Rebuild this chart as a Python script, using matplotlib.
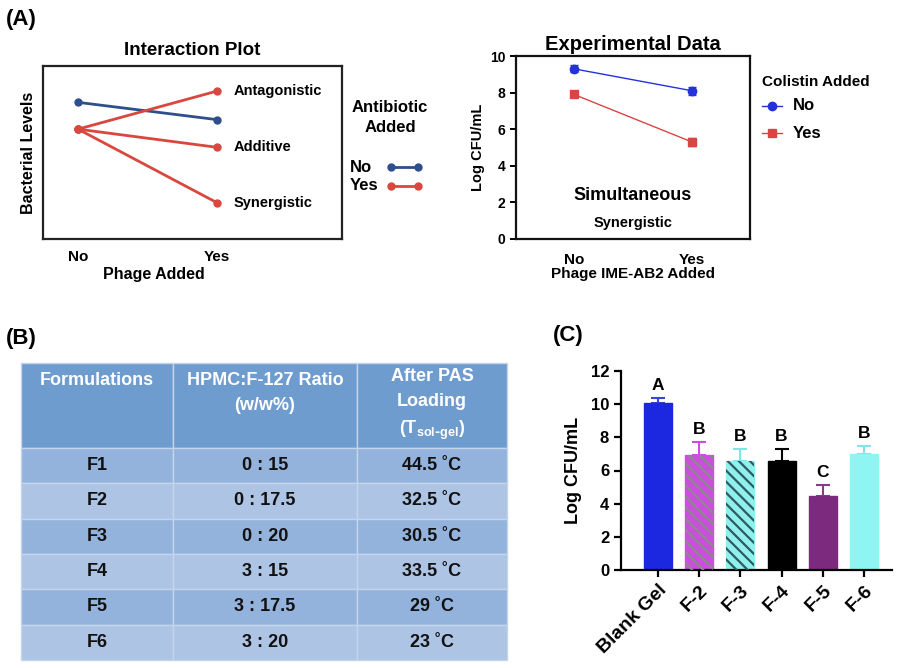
import numpy as np
import matplotlib
matplotlib.use("Agg")
import matplotlib.pyplot as plt
from matplotlib.lines import Line2D

plt.rcParams['font.family'] = ['Liberation Sans', 'DejaVu Sans']
plt.rcParams['font.weight'] = 'bold'
plt.rcParams['axes.labelweight'] = 'bold'
plt.rcParams['hatch.linewidth'] = 1.6

# ---- data ----
# (A) interaction plot (schematic levels)
phage = ['No', 'Yes']
no_abx = [7.9, 6.9]
yes_abx_no = 6.35
outcomes = ['Antagonistic', 'Additive', 'Synergistic']
outcome_vals = [8.55, 5.3, 2.1]

# (A) experimental data
colistin_no = [9.3, 8.1]
colistin_no_err = [0.2, 0.22]
colistin_yes = [7.9, 5.3]
colistin_yes_err = [0.1, 0.2]

# (B) table
col_heads = ['Formulations\n\n', 'HPMC:F-127 Ratio\n(w/w%)\n',
             'After PAS\nLoading\n(T$_{\\mathregular{sol\\text{-}gel}}$)']
forms = ['F1', 'F2', 'F3', 'F4', 'F5', 'F6']
ratios = ['0 : 15', '0 : 17.5', '0 : 20', '3 : 15', '3 : 17.5', '3 : 20']
tsolgel = ['44.5 ˚C', '32.5 ˚C', '30.5 ˚C', '33.5 ˚C', '29 ˚C', '23 ˚C']

# (C) bars
groups = ['Blank Gel', 'F-2', 'F-3', 'F-4', 'F-5', 'F-6']
logcfu = [10.1, 6.95, 6.55, 6.55, 4.45, 7.0]
logcfu_err = [0.3, 0.75, 0.75, 0.75, 0.7, 0.5]
letters = ['A', 'B', 'B', 'B', 'C', 'B']
bar_colors = ['#1c28e0', '#c94fdc', '#90f0ee', '#000000', '#7b2a7d', '#8ef5f3']
err_colors = ['#3a44d8', '#c94fdc', '#7fe6e6', '#000000', '#8a3a8c', '#7fe6e6']
hatch_colors = [None, '#8a8a8a', '#2f5a60', None, None, None]

W, H = 905, 668
fig = plt.figure(figsize=(W / 100, H / 100), dpi=100)


def box(x0, y0, x1, y1):
    return [x0 / W, 1 - y1 / H, (x1 - x0) / W, (y1 - y0) / H]


def ftext(x, y, s, **kw):
    fig.text(x / W, 1 - y / H, s, fontweight='bold', **kw)


def fline(x0, x1, y, **kw):
    fig.add_artist(Line2D([x0 / W, x1 / W], [1 - y / H, 1 - y / H],
                          transform=fig.transFigure, **kw))


ftext(6, 20, '(A)', fontsize=16, va='center')
ftext(6, 338, '(B)', fontsize=16, va='center')
ftext(553, 335, '(C)', fontsize=16, va='center')

# ---- (A) interaction plot ----
navy = '#2e4f8a'
red = '#d9473f'
ax = fig.add_axes(box(43, 66, 342, 239))
xs = [0, 1]
ax.plot(xs, no_abx, '-o', color=navy, lw=2, ms=5)
for name, v in zip(outcomes, outcome_vals):
    ax.plot(xs, [yes_abx_no, v], '-o', color=red, lw=2, ms=5)
    ax.text(1.12, v, name, fontsize=10.5, fontweight='bold', va='center')
ax.set_xlim(-0.252, 1.9)
ax.set_ylim(0, 10)
ax.set_xticks(xs)
ax.set_xticklabels(phage, fontsize=11, fontweight='bold')
ax.set_yticks([])
ax.tick_params(axis='x', length=0, pad=8)
ax.set_xlabel('Phage Added', fontsize=11.5, labelpad=2, x=0.37)
ax.set_ylabel('Bacterial Levels', fontsize=11.5, labelpad=5)
ax.set_title('Interaction Plot', fontsize=13.5, fontweight='bold', pad=8)
for s in ax.spines.values():
    s.set_linewidth(1.6)
    s.set_color('#222222')
# legend drawn by hand (labels left, keys right)
ftext(390, 107, 'Antibiotic', fontsize=12, ha='center', va='center')
ftext(390, 127, 'Added', fontsize=12, ha='center', va='center')
for lab, col, yy in [('No', navy, 167), ('Yes', red, 186)]:
    ftext(350, yy, lab, fontsize=12, ha='left', va='center')
    fline(391, 418, yy, color=col, lw=2, marker='o', ms=5)

# ---- (A) experimental data ----
c_no = '#2433d8'
c_yes = '#d94545'
ax = fig.add_axes(box(516, 56, 750, 239))
ax.errorbar(xs, colistin_no, yerr=colistin_no_err, fmt='-o', color=c_no,
            lw=1, ms=6, capsize=3)
ax.errorbar(xs, colistin_yes, yerr=colistin_yes_err, fmt='-s', color=c_yes,
            lw=1, ms=6, capsize=3)
ax.set_xlim(-0.49, 1.49)
ax.set_ylim(0, 10)
ax.set_yticks(range(0, 11, 2))
ax.set_xticks(xs)
ax.set_xticklabels(phage, fontsize=11, fontweight='bold')
ax.tick_params(axis='x', length=0, pad=10)
ax.tick_params(axis='y', labelsize=10, width=1.4, length=4)
ax.set_xlabel('Phage IME-AB2 Added', fontsize=11, labelpad=0)
ax.set_ylabel('Log CFU/mL', fontsize=10.5, labelpad=4)
ax.set_title('Experimental Data', fontsize=14.5, fontweight='bold', pad=4)
ax.text(0.5, 2.4, 'Simultaneous', fontsize=13, fontweight='bold', ha='center', va='center')
ax.text(0.5, 0.85, 'Synergistic', fontsize=10.5, fontweight='bold', ha='center', va='center')
for s in ax.spines.values():
    s.set_linewidth(1.6)
    s.set_color('#111111')
ftext(762, 82, 'Colistin Added', fontsize=11, ha='left', va='center')
for lab, col, mk, yy in [('No', c_no, 'o', 106), ('Yes', c_yes, 's', 133)]:
    fline(762, 782, yy, color=col, lw=1)
    fig.add_artist(Line2D([772 / W], [1 - yy / H], transform=fig.transFigure,
                          color=col, marker=mk, ms=6, lw=0))
    ftext(793, yy, lab, fontsize=12, ha='left', va='center')

# ---- (B) table ----
ax = fig.add_axes(box(21, 363, 507, 660))
ax.axis('off')
rows = [[f, r, t] for f, r, t in zip(forms, ratios, tsolgel)]
row_cols = [['#93b3dc'] * 3 if i % 2 == 0 else ['#adc4e5'] * 3 for i in range(len(rows))]
tab = ax.table(cellText=rows, colLabels=col_heads, cellColours=row_cols,
               colColours=['#6f9ccf'] * 3, colWidths=[152, 184, 150],
               cellLoc='center', bbox=[0, 0, 1, 1])
tab.auto_set_font_size(False)
for (r, c), cell in tab.get_celld().items():
    cell.set_edgecolor('#c3d4ec')
    cell.set_linewidth(1.0)
    txt = cell.get_text()
    txt.set_fontweight('bold')
    if r == 0:
        cell.set_height(cell.get_height() * 2.4)
        txt.set_color('white')
        txt.set_fontsize(13)
        txt.set_linespacing(1.6)
    else:
        txt.set_color('#111111')
        txt.set_fontsize(13)

# ---- (C) bars ----
ax = fig.add_axes(box(621, 371, 892, 570))
xpos = np.arange(len(groups))
ax.bar(xpos, logcfu, width=0.68, color=bar_colors, edgecolor=bar_colors, zorder=2)
for i in range(len(groups)):
    ax.errorbar(xpos[i], logcfu[i], yerr=[[0], [logcfu_err[i]]], fmt='none',
                ecolor=err_colors[i], capsize=5, elinewidth=1.5, capthick=1.5, zorder=1)
for i, hc in enumerate(hatch_colors):
    if hc:
        ax.bar(xpos[i], logcfu[i], width=0.68, facecolor='none', edgecolor=hc,
               hatch='\\\\\\', linewidth=0, zorder=3)
for i, (v, e, l) in enumerate(zip(logcfu, logcfu_err, letters)):
    ax.text(i, v + e + 0.3, l, ha='center', va='bottom', fontsize=12.5, fontweight='bold')
ax.set_xlim(-0.9, 5.68)
ax.set_ylim(0, 12)
ax.set_yticks(range(0, 13, 2))
ax.set_xticks(xpos)
ax.set_xticklabels(groups, rotation=45, ha='right', rotation_mode='anchor',
                   fontsize=14, fontweight='bold')
ax.tick_params(axis='both', width=1.6, length=5)
ax.tick_params(axis='y', labelsize=12)
ax.set_ylabel('Log CFU/mL', fontsize=13, labelpad=6)
for s in ['top', 'right']:
    ax.spines[s].set_visible(False)
for s in ['left', 'bottom']:
    ax.spines[s].set_linewidth(1.6)

fig.savefig('out.png', dpi=100)
